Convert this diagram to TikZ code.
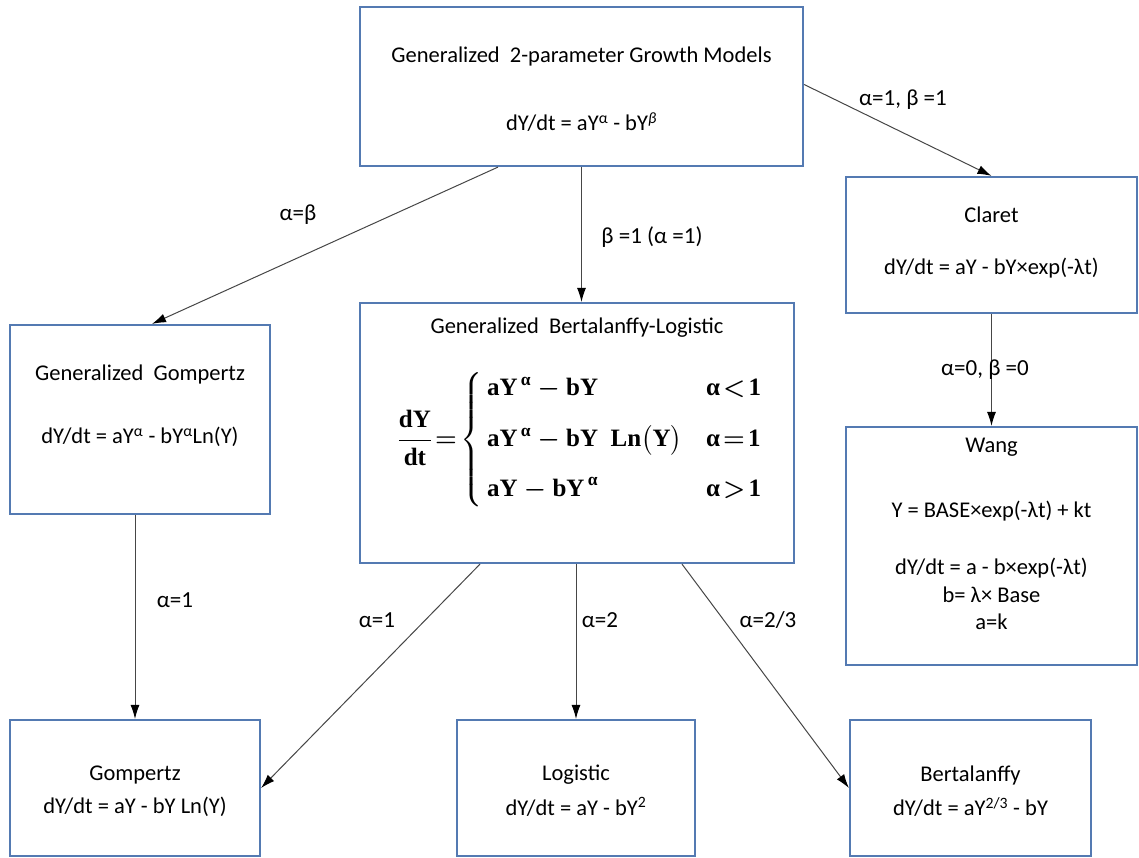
\documentclass[tikz,border=0pt]{standalone}
\usepackage{amsmath}
\usepackage{fontspec}
\setmainfont{Carlito}
\newfontfamily\tms{Liberation Serif}
\usetikzlibrary{arrows.meta,calc}
\definecolor{boxblue}{RGB}{84,122,178}
\definecolor{linegray}{RGB}{70,70,70}
\tikzset{
  mbox/.style={draw=boxblue,line width=2.2pt,fill=white,rectangle,inner sep=0pt},
  txt/.style={font=\fontsize{22.5}{26}\selectfont,inner sep=0pt,align=center},
  lbl/.style={font=\fontsize{23}{27}\selectfont,inner sep=0pt},
  conn/.style={draw=linegray,line width=1pt,-{Latex[length=14pt,width=9pt,color=black]}}
}
\begin{document}
\begin{tikzpicture}[x=1pt,y=-1pt]
\useasboundingbox (0,0) rectangle (1139,858);
% boxes
\node[mbox,minimum width=443pt,minimum height=159pt] (top) at (581.5,86.5) {};
\node[mbox,minimum width=291pt,minimum height=136pt] (claret) at (991.5,245) {};
\node[mbox,minimum width=291pt,minimum height=238pt] (wang) at (991.5,546) {};
\node[mbox,minimum width=260pt,minimum height=189pt] (ggomp) at (140,419.5) {};
\node[mbox,minimum width=434pt,minimum height=260pt] (gbl) at (577,433) {};
\node[mbox,minimum width=250pt,minimum height=136pt] (gomp) at (135,788) {};
\node[mbox,minimum width=238pt,minimum height=136pt] (logi) at (576,788) {};
\node[mbox,minimum width=241pt,minimum height=136pt] (bert) at (970.5,788) {};
% texts
\node[txt] (topT) at (581.5,57) {Generalized\ \ 2-parameter Growth Models};
\node[txt] (topE) at (581.5,122) {dY/dt = aY\textsuperscript{α} - bY\textsuperscript{\itshape β}};
\node[txt] (clT) at (991.5,215) {Claret};
\node[txt] (clE) at (991.5,268) {dY/dt = aY - bY×exp(-λt)};
\node[txt] (wgT) at (991.5,447) {Wang};
\node[txt] (wgA) at (991.5,511) {Y = BASE×exp(-λt) + kt};
\node[txt] (wgB) at (991.5,568) {dY/dt = a - b×exp(-λt)};
\node[txt] (wgC) at (991.5,595) {b= λ× Base};
\node[txt] (wgD) at (991.5,622) {a=k};
\node[txt] (ggT) at (140,375) {Generalized\ \ Gompertz};
\node[txt] (ggE) at (140,437) {dY/dt = aY\textsuperscript{α} - bY\textsuperscript{α}Ln(Y)};
\node[txt] (gbT) at (577,328) {Generalized\ \ Bertalanffy-Logistic};
\node[font=\tms\bfseries\boldmath\fontsize{25}{29}\selectfont,inner sep=0pt] (gbE) at (580,440)
 {$\dfrac{\text{dY}}{\text{dt}}\!=\!\left\{\,\begin{array}{@{}l@{\hspace{24pt}}l@{}}
   \text{aY}^{\,\text{α}}-\text{bY} & \text{α}\!<\!\text{1}\\[21pt]
   \text{aY}^{\,\text{α}}-\text{bY\ \ Ln}\bigl(\text{Y}\bigr) & \text{α}\!=\!\text{1}\\[21pt]
   \text{aY}-\text{bY}^{\,\text{α}} & \text{α}\!>\!\text{1}
 \end{array}\right.$};
\node[txt] (goT) at (135,775) {Gompertz};
\node[txt] (goE) at (135,807) {dY/dt = aY - bY Ln(Y)};
\node[txt] (loT) at (576,775) {Logistic};
\node[txt] (loE) at (576,807) {dY/dt = aY - bY\textsuperscript{2}};
\node[txt] (beT) at (970.5,775) {Bertalanffy};
\node[txt] (beE) at (970.5,807) {dY/dt = aY\textsuperscript{2/3} - bY};
% connectors
\draw[conn] ([xshift=-83.5pt]top.south) -- ([xshift=12pt]ggomp.north);
\draw[conn] (top.south) -- (top.south |- gbl.north);
\draw[conn] ([yshift=2pt]top.east) -- (claret.north);
\draw[conn] (claret.south) -- (wang.north);
\draw[conn] (ggomp.south -| gomp.north) -- (gomp.north);
\draw[conn] ([xshift=-97pt]gbl.south) -- (gomp.east);
\draw[conn] (gbl.south -| logi.north) -- (logi.north);
\draw[conn] ([xshift=105pt]gbl.south) -- (bert.west);
% labels
\node[lbl] (l1) at (298,215) {α=β};
\node[lbl] (l2) at (652,237) {β =1 (α =1)};
\node[lbl] (l3) at (903,100) {α=1, β =1};
\node[lbl] (l4) at (985,370) {α=0, β =0};
\node[lbl] (l5) at (175,600) {α=1};
\node[lbl] (l6) at (377,620) {α=1};
\node[lbl] (l7) at (600,620) {α=2};
\node[lbl] (l8) at (768,620) {α=2/3};
\end{tikzpicture}
\end{document}
